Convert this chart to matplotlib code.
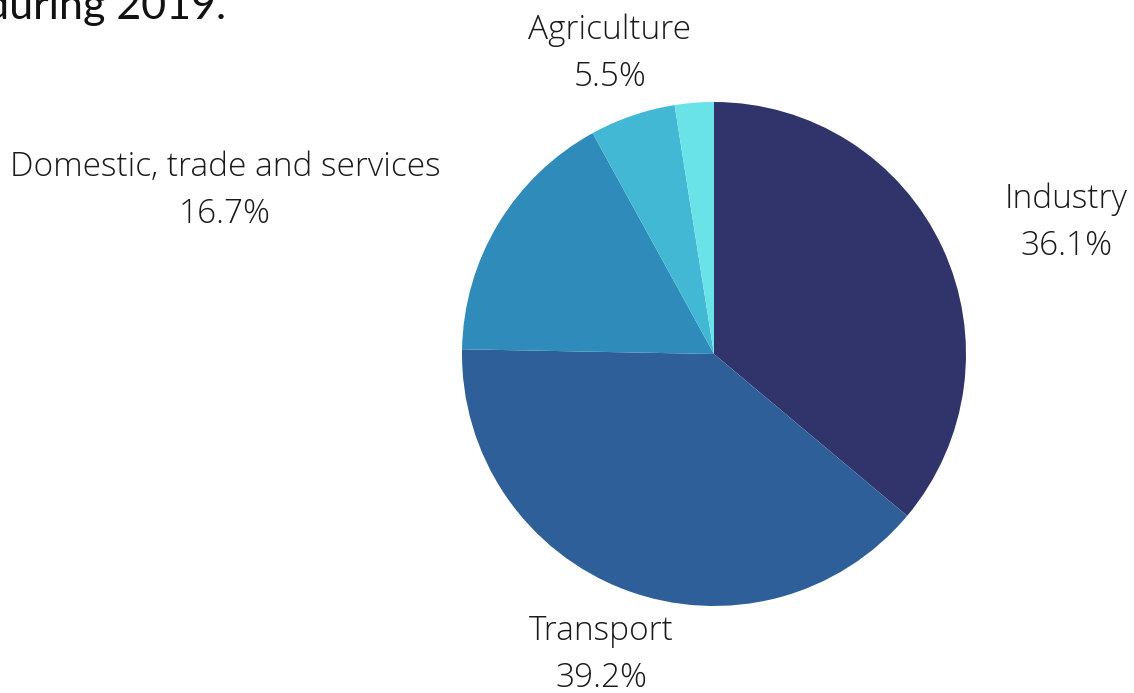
import matplotlib
matplotlib.use("Agg")
import matplotlib.pyplot as plt

sectors = ["Industry", "Transport", "Domestic, trade and services", "Agriculture", "Other"]
shares = [36.1, 39.2, 16.7, 5.5, 2.5]
colors = ["#31346b", "#2f5f98", "#2e8bba", "#42b8d5", "#6ae3e8"]

# label centres in pixels (x, y from top); None = no label
label_pos = [(1066, 223), (601, 655), (225, 191), (610, 54), None]

W, H = 1134, 693
fig = plt.figure(figsize=(W / 100, H / 100), dpi=100)
ax = fig.add_axes([0, 0, 1, 1])

ax.pie(shares, colors=colors, startangle=90, counterclock=False,
       center=(714, H - 354), radius=252, frame=True,
       wedgeprops=dict(linewidth=0))
ax.set_xlim(0, W)
ax.set_ylim(0, H)
ax.axis("off")

for name, val, pos in zip(sectors, shares, label_pos):
    if pos is None:
        continue
    ax.text(pos[0], H - pos[1], f"{name}\n{val}%", ha="center", va="center",
            fontsize=24, family="Open Sans", fontweight="light",
            color="#1a1a1a", linespacing=1.52)

# title is partly outside the canvas in the original
fig.text(226 / W, 1 - 19 / H, "during 2019.", ha="right", va="baseline",
         fontsize=31, family="Lato", fontweight="normal", color="#111111")

fig.savefig("out.png", dpi=100)
